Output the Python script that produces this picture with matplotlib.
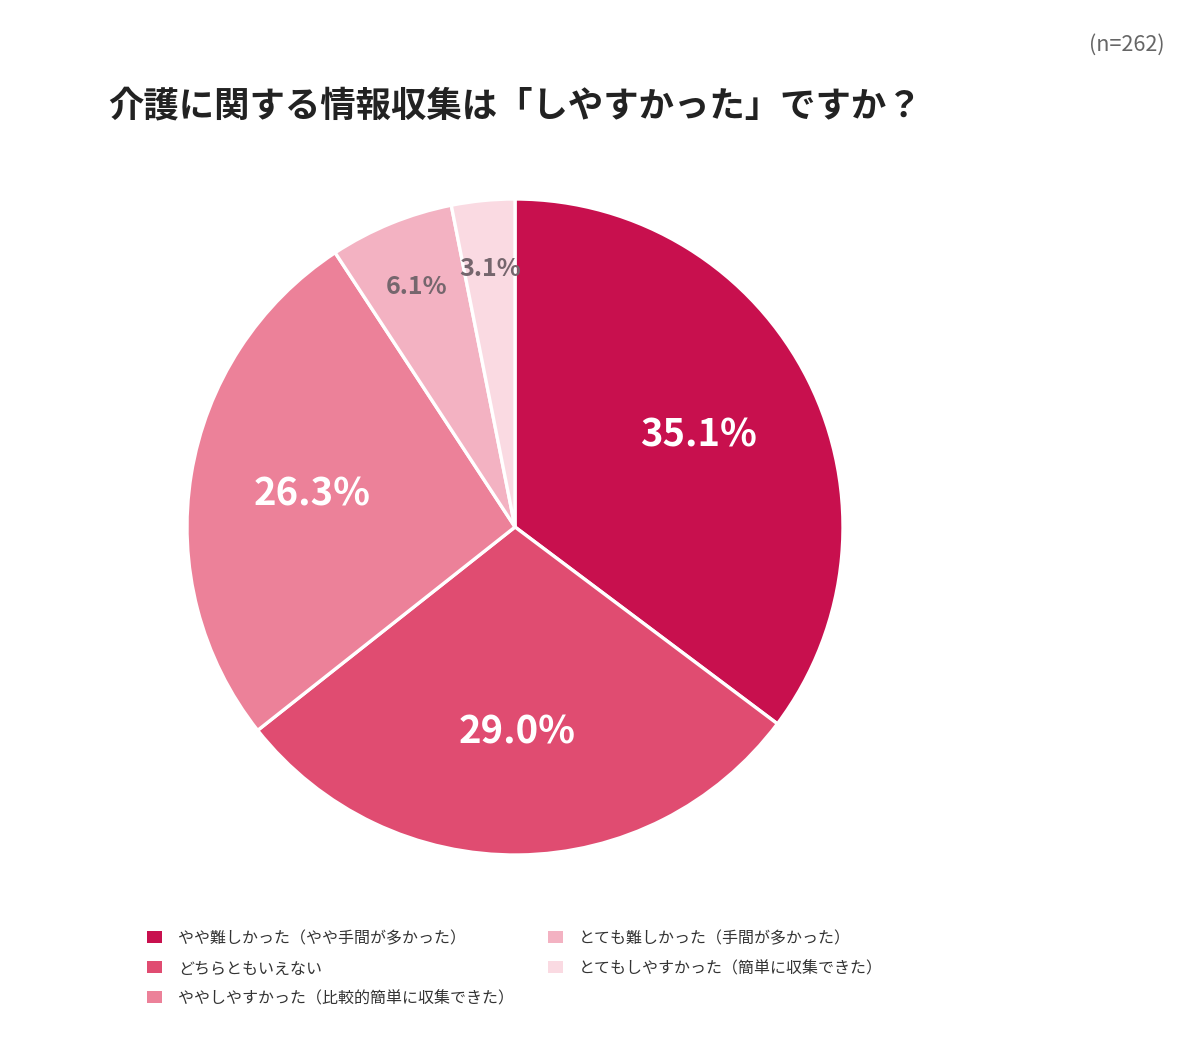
import matplotlib
matplotlib.use("Agg")
import matplotlib.pyplot as plt
from matplotlib.patches import Rectangle

plt.rcParams['font.family'] = ['Noto Sans CJK JP', 'DejaVu Sans']

# data
categories = ['やや難しかった（やや手間が多かった）', 'どちらともいえない',
              'ややしやすかった（比較的簡単に収集できた）', 'とても難しかった（手間が多かった）',
              'とてもしやすかった（簡単に収集できた）']
values = [35.1, 29.0, 26.3, 6.1, 3.1]
colors = ['#C8104E', '#E04C71', '#EC8199', '#F3B2C2', '#FADAE2']
title = '介護に関する情報収集は「しやすかった」ですか？'
n_note = '(n=262)'

W, H = 1200, 1058
fig = plt.figure(figsize=(W / 100, H / 100), dpi=100)
fig.patch.set_facecolor('white')

ax = fig.add_axes([187/W, 1 - 855/H, 656/W, 656/H])
wedges, texts = ax.pie(values, colors=colors, startangle=90, counterclock=False,
                       wedgeprops=dict(edgecolor='white', linewidth=2.4),
                       labels=['{:.1f}%'.format(v) for v in values],
                       labeldistance=0.625, radius=1.0)
ax.set_aspect('equal')
ax.set_xlim(-1, 1)
ax.set_ylim(-1, 1)

for t, v in zip(texts, values):
    t.set_ha('center')
    t.set_va('center')
    t.set_fontweight('bold')
    if v > 10:
        t.set_color('white')
        t.set_fontsize(27.5)
    else:
        # small slices: labels pushed outward, gray text
        x, y = t.get_position()
        t.set_position((x / 0.625 * 0.79, y / 0.625 * 0.79))
        t.set_color('#75666d')
        t.set_fontsize(18)

fig.text(108/W, 1 - 106/H, title, fontsize=25.5, fontweight='bold',
         color='#222222', ha='left', va='center')
fig.text(1165/W, 1 - 45/H, n_note, fontsize=15.5, color='#666666',
         ha='right', va='center')

# legend, column-wise: 3 rows then 2
col_x = [147, 548]
row_y = [937, 967, 997]
for i, (lab, c) in enumerate(zip(categories, colors)):
    col, row = divmod(i, 3)
    x0, y0 = col_x[col], row_y[row]
    fig.add_artist(Rectangle((x0 / W, 1 - (y0 + 6) / H), 15 / W, 12 / H,
                             transform=fig.transFigure, facecolor=c, edgecolor='none'))
    fig.text((x0 + 31) / W, 1 - (y0 + 2) / H, lab, fontsize=11.5, color='#333333',
             ha='left', va='center')

fig.savefig('out.png', dpi=100, facecolor='white')
